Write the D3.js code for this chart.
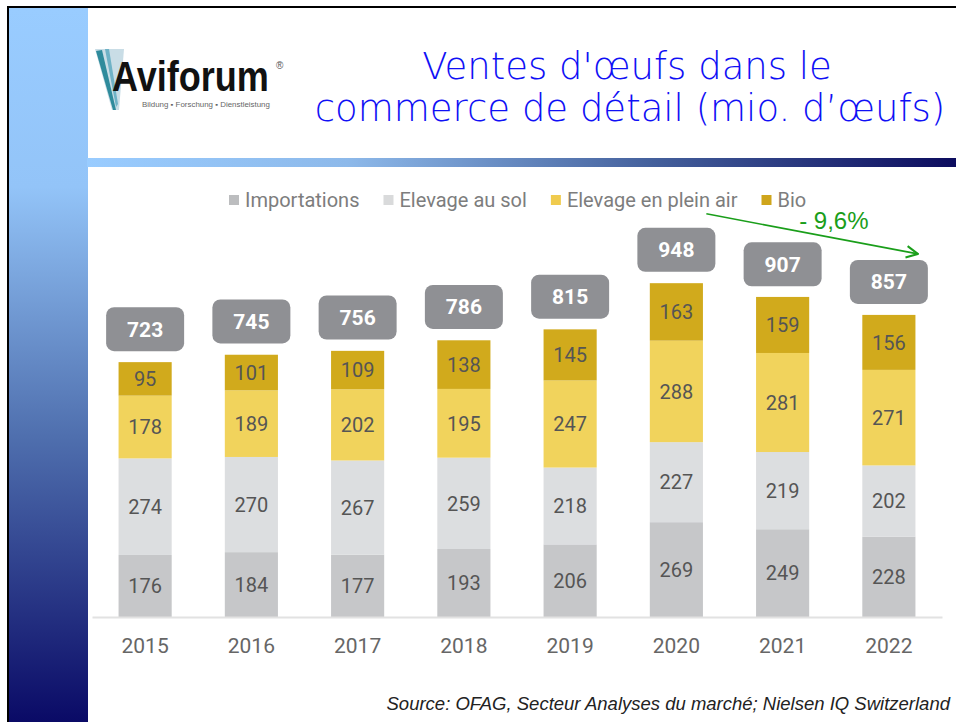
<!DOCTYPE html>
<html lang="fr">
<head>
  <meta charset="UTF-8">
  <title>Ventes d'œufs dans le commerce de détail</title>
  <style>
    body, html {
      margin: 0;
      padding: 0;
      background: #fff;
    }
    svg { display: block; }
  </style>
</head>
<body>
  <svg id="svg" width="956" height="722"></svg>

  <script src="https://cdn.jsdelivr.net/npm/d3@7"></script>
  <script>
    // data (mio. d'œufs)
    const years = ['2015', '2016', '2017', '2018', '2019', '2020', '2021', '2022'];
    const importations = [176, 184, 177, 193, 206, 269, 249, 228];
    const elevageSol = [274, 270, 267, 259, 218, 227, 219, 202];
    const pleinAir = [178, 189, 202, 195, 247, 288, 281, 271];
    const bio = [95, 101, 109, 138, 145, 163, 159, 156];
    const totals = [723, 745, 756, 786, 815, 948, 907, 857];
    const seriesNames = ['Importations', 'Elevage au sol', 'Elevage en plein air', 'Bio'];
    const evolutionLabel = '- 9,6%';

    const keys = ['imp', 'sol', 'air', 'bio'];
    const colors = { imp: '#c6c7c9', sol: '#dcdee0', air: '#f1d35c', bio: '#d1aa1c' };
    const legendColors = ['#bcbdbf', '#d9dadb', '#f0cb4e', '#cfa51b'];

    const table = years.map((y, i) => ({
      year: y,
      imp: importations[i],
      sol: elevageSol[i],
      air: pleinAir[i],
      bio: bio[i],
      total: totals[i]
    }));

    const svg = d3.select('#svg');
    const defs = svg.append('defs');

    // slide decoration: gradients
    const vGrad = defs.append('linearGradient')
      .attr('id', 'vgrad').attr('x1', 0).attr('y1', 0).attr('x2', 0).attr('y2', 1);
    vGrad.append('stop').attr('offset', '0%').attr('stop-color', '#99ccff');
    vGrad.append('stop').attr('offset', '25%').attr('stop-color', '#93c4f8');
    vGrad.append('stop').attr('offset', '60%').attr('stop-color', '#4f6fae');
    vGrad.append('stop').attr('offset', '100%').attr('stop-color', '#0a0a66');

    const hGrad = defs.append('linearGradient')
      .attr('id', 'hgrad').attr('x1', 0).attr('y1', 0).attr('x2', 1).attr('y2', 0);
    hGrad.append('stop').attr('offset', '0%').attr('stop-color', '#99ccff');
    hGrad.append('stop').attr('offset', '30%').attr('stop-color', '#8db9ea');
    hGrad.append('stop').attr('offset', '65%').attr('stop-color', '#44609c');
    hGrad.append('stop').attr('offset', '100%').attr('stop-color', '#0c0c5e');

    svg.append('rect').attr('x', 9).attr('y', 8).attr('width', 79).attr('height', 714)
      .attr('fill', 'url(#vgrad)');
    svg.append('rect').attr('x', 87).attr('y', 158).attr('width', 869).attr('height', 9)
      .attr('fill', 'url(#hgrad)');
    svg.append('path').attr('d', 'M8,722 V7 H956')
      .attr('fill', 'none').attr('stroke', '#000').attr('stroke-width', 2);

    // logo
    const logo = svg.append('g');
    logo.append('path').attr('d', 'M95,49 L124,49 L119,110 L112,110 Z').attr('fill', '#c9dde6');
    logo.append('path').attr('d', 'M96,51 L102,50 L116,110 L113,110 Z').attr('fill', '#2f8b9c');
    logo.append('path').attr('d', 'M105,49 L109,49 L118,104 L116,107 Z').attr('fill', '#6fb2c6');
    const brand = logo.append('text')
      .attr('font-family', 'Liberation Sans, Arial, sans-serif')
      .attr('font-weight', 'bold').attr('font-size', 42)
      .attr('fill', '#111').text('Aviforum');
    const brandW = brand.node().getComputedTextLength();
    brand.attr('transform', `translate(112,91) scale(${157 / brandW},1)`);
    logo.append('text')
      .attr('x', 276).attr('y', 69)
      .attr('font-family', 'Liberation Sans, Arial, sans-serif').attr('font-size', 10)
      .attr('fill', '#555').text('®');
    const tag = logo.append('text')
      .attr('font-family', 'Liberation Sans, Arial, sans-serif').attr('font-size', 7)
      .attr('fill', '#666').text('Bildung ▪ Forschung ▪ Dienstleistung');
    const tagW = tag.node().getComputedTextLength();
    tag.attr('transform', `translate(142,107) scale(${128 / tagW},1)`);

    // title
    const title = svg.append('text')
      .attr('text-anchor', 'middle')
      .attr('font-family', 'DejaVu Sans, sans-serif')
      .attr('font-weight', 200)
      .attr('font-size', 37)
      .attr('fill', '#1010f5');
    title.append('tspan').attr('x', 627).attr('y', 79).text("Ventes d'œufs dans le");
    title.append('tspan').attr('x', 630).attr('y', 121).text('commerce de détail (mio. d’œufs)');

    // chart
    const baseY = 617;
    const x = d3.scaleBand()
      .domain(years)
      .range([92, 942])
      .paddingInner(0.5)
      .paddingOuter(0.25);

    const y = d3.scaleLinear()
      .domain([0, 1000])
      .range([baseY, baseY - 352.5]);

    const stack = d3.stack().keys(keys)(table);

    const layers = svg.append('g').selectAll('g')
      .data(stack)
      .join('g')
      .attr('fill', d => colors[d.key]);

    layers.selectAll('rect')
      .data(d => d)
      .join('rect')
      .attr('x', d => x(d.data.year))
      .attr('y', d => y(d[1]))
      .attr('width', x.bandwidth())
      .attr('height', d => y(d[0]) - y(d[1]));

    // segment values
    const segLabels = svg.append('g')
      .attr('font-family', 'Roboto, sans-serif')
      .attr('font-size', 20)
      .attr('fill', '#555')
      .attr('text-anchor', 'middle');
    stack.forEach(layer => {
      segLabels.selectAll(null)
        .data(layer)
        .join('text')
        .attr('x', d => x(d.data.year) + x.bandwidth() / 2)
        .attr('y', d => (y(d[0]) + y(d[1])) / 2)
        .attr('dy', '0.36em')
        .text(d => d.data[layer.key]);
    });

    // total badges
    const boxW = 78, boxH = 44, gap = 11;
    const badges = svg.append('g').selectAll('g')
      .data(table)
      .join('g')
      .attr('transform', d => `translate(${x(d.year) + x.bandwidth() / 2},${y(d.total) - gap - boxH})`);
    badges.append('rect')
      .attr('x', -boxW / 2).attr('width', boxW).attr('height', boxH)
      .attr('rx', 8).attr('fill', '#8f9094');
    badges.append('text')
      .attr('y', boxH / 2).attr('dy', '0.36em')
      .attr('text-anchor', 'middle')
      .attr('font-family', 'Roboto, sans-serif')
      .attr('font-weight', 'bold').attr('font-size', 21)
      .attr('fill', '#fff')
      .text(d => d.total);

    // x axis
    const xAxis = svg.append('g')
      .attr('transform', `translate(0,${baseY})`)
      .call(d3.axisBottom(x).tickSize(0).tickPadding(21));
    xAxis.select('.domain').attr('stroke', '#e2e2e2').attr('stroke-width', 2);
    xAxis.selectAll('text')
      .attr('font-family', 'Roboto, sans-serif')
      .attr('font-size', 21)
      .attr('fill', '#666');

    // legend
    const legend = svg.append('g')
      .attr('font-family', 'Roboto, sans-serif')
      .attr('font-size', 20)
      .attr('fill', '#7d7d7d');
    let lx = 229;
    seriesNames.forEach((name, i) => {
      legend.append('rect').attr('x', lx).attr('y', 195).attr('width', 10).attr('height', 10)
        .attr('fill', legendColors[i]);
      const t = legend.append('text').attr('x', lx + 16).attr('y', 207).text(name);
      lx += 16 + t.node().getComputedTextLength() + 24;
    });

    // evolution arrow 2020 -> 2022
    defs.append('marker')
      .attr('id', 'arrow').attr('viewBox', '0 0 10 10')
      .attr('refX', 9).attr('refY', 5)
      .attr('markerWidth', 9).attr('markerHeight', 9)
      .attr('orient', 'auto')
      .append('path').attr('d', 'M1,1 L9,5 L1,9')
      .attr('fill', 'none').attr('stroke', '#1a9e1a').attr('stroke-width', 1.4);

    const a0 = { x: x('2020') + x.bandwidth() / 2 + 30, y: y(totals[5]) - gap - boxH - 14 };
    const a1 = { x: x('2022') + x.bandwidth() / 2 + 29, y: y(totals[7]) - gap - boxH - 6 };
    svg.append('line')
      .attr('x1', a0.x).attr('y1', a0.y).attr('x2', a1.x).attr('y2', a1.y)
      .attr('stroke', '#1a9e1a').attr('stroke-width', 1.6)
      .attr('marker-end', 'url(#arrow)');
    svg.append('text')
      .attr('x', (a0.x + a1.x) / 2 - 13)
      .attr('y', (a0.y + a1.y) / 2 - 5)
      .attr('font-family', 'Liberation Sans, Arial, sans-serif')
      .attr('font-size', 24)
      .attr('fill', '#1a9e1a')
      .text(evolutionLabel);

    // source
    svg.append('text')
      .attr('x', 950).attr('y', 710)
      .attr('text-anchor', 'end')
      .attr('font-family', 'Liberation Sans, Arial, sans-serif')
      .attr('font-style', 'italic')
      .attr('font-size', 18.5)
      .attr('fill', '#222')
      .text('Source: OFAG, Secteur Analyses du marché; Nielsen IQ Switzerland');
  </script>
</body>
</html>
